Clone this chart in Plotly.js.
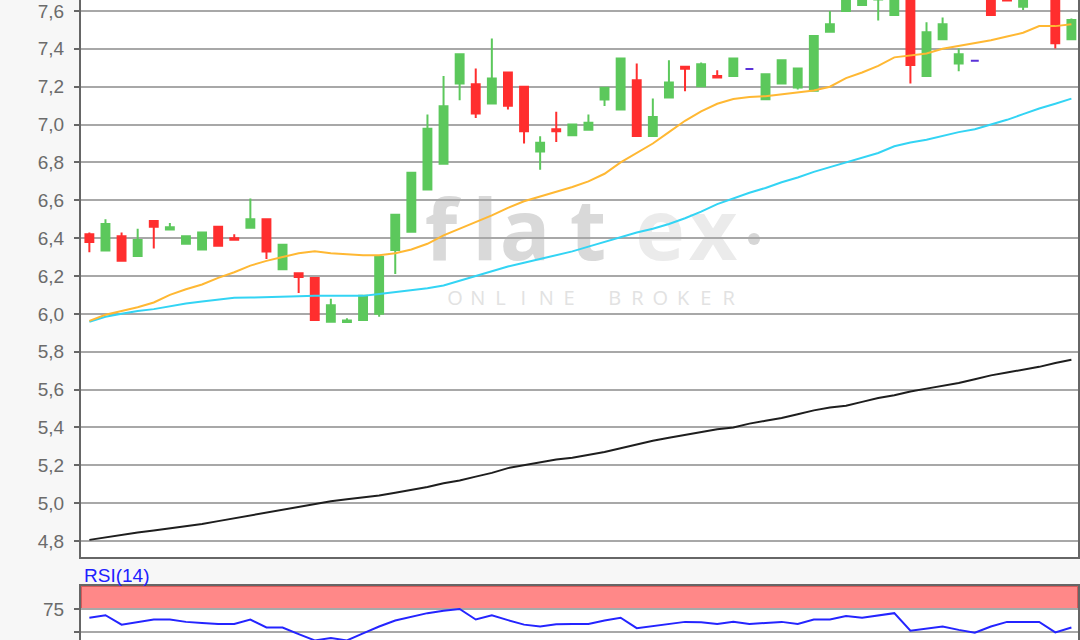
<!DOCTYPE html>
<html><head><meta charset="utf-8">
<script src="https://cdn.plot.ly/plotly-3.0.1.min.js"></script>
<style>html,body{margin:0;padding:0;background:#f7f7f7;}#chart{width:1080px;height:640px;}</style>
</head><body><div id="chart"></div>
<script>
// ---- data ----
const openP  = [6.42,6.335,6.41,6.305,6.49,6.445,6.37,6.34,6.46,6.40, 6.455,6.50,6.235,6.215,6.19,5.958,5.957,5.967,6.0,6.337, 6.434,6.657,6.793,7.217,7.213,7.111,7.275,7.2,6.858,6.975, 6.943,6.973,7.132,7.079,7.234,6.939,7.143,7.305,7.203,7.256, 7.257,7.293,7.134,7.217,7.196,7.178,7.49,7.60,7.632,7.66, 7.579,7.70,7.257,7.45,7.323,7.337,7.70,7.74,7.623,7.70, 7.72,7.45];
const highP  = [6.43,6.50,6.43,6.45,6.495,6.48,6.41,6.43,6.46,6.42, 6.61,6.50,6.365,6.215,6.19,6.08,5.977,6.095,6.30,6.523, 6.745,7.053,7.256,7.372,7.296,7.455,7.275,7.2,6.938,7.067, 7.0,7.053,7.194,7.349,7.323,7.137,7.34,7.305,7.328,7.287, 7.349,7.293,7.266,7.34,7.296,7.468,7.60,7.74,7.75,7.78, 7.80,7.72,7.54,7.565,7.402,7.337,7.72,7.76,7.75,7.80, 7.74,7.56];
const lowP   = [6.325,6.33,6.28,6.30,6.345,6.443,6.37,6.337,6.359,6.39, 6.455,6.29,6.232,6.11,5.967,5.958,5.956,5.967,5.985,6.21, 6.434,6.657,6.793,7.128,7.035,7.111,7.079,6.90,6.761,6.908, 6.943,6.973,7.098,7.079,6.939,6.939,7.143,7.176,7.203,7.247, 7.257,7.293,7.134,7.217,7.185,7.178,7.49,7.60,7.632,7.55, 7.579,7.217,7.257,7.45,7.282,7.337,7.579,7.65,7.605,7.68, 7.402,7.45];
const closeP = [6.38,6.475,6.28,6.39,6.46,6.457,6.41,6.43,6.36,6.392, 6.50,6.33,6.365,6.195,5.967,6.045,5.965,6.095,6.30,6.523, 6.745,6.978,7.097,7.372,7.058,7.243,7.10,6.965,6.904,6.965, 7.0,7.01,7.194,7.349,6.939,7.04,7.222,7.295,7.318,7.248, 7.349,7.293,7.266,7.34,7.296,7.468,7.53,7.72,7.70,7.74, 7.76,7.314,7.487,7.53,7.372,7.337,7.579,7.655,7.72,7.78, 7.43,7.552];
const maOrange = [5.963,5.995,6.015,6.035,6.06,6.10,6.13,6.155,6.19,6.22, 6.255,6.28,6.30,6.32,6.33,6.32,6.315,6.31,6.31,6.32, 6.34,6.37,6.415,6.45,6.485,6.52,6.56,6.595,6.62,6.645, 6.67,6.70,6.74,6.80,6.85,6.90,6.96,7.02,7.07,7.11, 7.135,7.145,7.15,7.16,7.17,7.18,7.20,7.245,7.275,7.31, 7.355,7.365,7.375,7.40,7.415,7.43,7.445,7.465,7.485,7.52, 7.52,7.53];
const maCyan = [5.958,5.985,6.0,6.015,6.025,6.04,6.055,6.065,6.075,6.085, 6.086,6.087,6.09,6.093,6.095,6.095,6.095,6.095,6.105,6.115, 6.125,6.135,6.15,6.175,6.2,6.225,6.25,6.27,6.29,6.31, 6.33,6.355,6.38,6.405,6.43,6.45,6.475,6.505,6.54,6.58, 6.61,6.64,6.665,6.695,6.72,6.75,6.775,6.80,6.825,6.85, 6.885,6.905,6.92,6.94,6.96,6.975,7.0,7.025,7.055,7.085, 7.11,7.137];
const maBlack = [4.806,4.82,4.835,4.845,4.855,4.867,4.877,4.89,4.905,4.92, 4.935,4.95,4.965,4.98,4.998,5.01,5.02,5.03,5.04,5.055, 5.07,5.085,5.105,5.12,5.14,5.16,5.185,5.2,5.215,5.23, 5.24,5.255,5.27,5.29,5.31,5.33,5.345,5.36,5.375,5.39, 5.40,5.42,5.435,5.45,5.47,5.49,5.505,5.515,5.535,5.555, 5.57,5.59,5.605,5.62,5.635,5.655,5.675,5.69,5.705,5.72, 5.74,5.757];
const rsi14 = [65.5,68.2,58,61,63.6,63.6,61,59.8,58.7,58.7, 63.6,54.9,54.9,47.7,40.9,43.5,40.9,48.5,56,62.5, 66.7,70.5,73.1,75,63.6,68.2,62.9,58,56,58.3, 58.7,58.7,62.5,65.5,54.2,56.4,58.7,61,60.6,58.7, 61,58.7,59.8,61,58.7,63.6,63.6,67.4,65.5,68.2, 70.5,51.5,53.8,56,52.3,49.2,56,61,61,61, 49.6,54.9];
const rsiLabel = 'RSI(14)';
const wmWord = 'flatex';
const wmSub = 'ONLINE BROKER';

const idx = openP.map((_, i) => i);
const moving = idx.filter(i => openP[i] !== closeP[i]);
const flat = idx.filter(i => openP[i] === closeP[i]);
const pick = (arr, ids) => ids.map(i => arr[i]);

const GREEN = '#5cc85c', RED = '#ff2e2e', PURPLE = '#5a32d8';
const xr = [-0.52, 61.41];

const traces = [
  {type:'scatter', mode:'lines', x:idx, y:maBlack, line:{color:'#1e1e1e', width:2}, hoverinfo:'skip'},
  {type:'scatter', mode:'lines', x:idx, y:maCyan, line:{color:'#33d4f4', width:2}, hoverinfo:'skip'},
  {type:'scatter', mode:'lines', x:idx, y:maOrange, line:{color:'#ffb833', width:2}, hoverinfo:'skip'},
  {type:'candlestick', x:pick(idx,moving), open:pick(openP,moving), high:pick(highP,moving), low:pick(lowP,moving), close:pick(closeP,moving),
   increasing:{line:{color:GREEN, width:2}, fillcolor:GREEN}, decreasing:{line:{color:RED, width:2}, fillcolor:RED}, whiskerwidth:0},
  {type:'candlestick', x:pick(idx,flat), open:pick(openP,flat), high:pick(highP,flat), low:pick(lowP,flat), close:pick(closeP,flat),
   increasing:{line:{color:PURPLE, width:2}, fillcolor:PURPLE}, decreasing:{line:{color:PURPLE, width:2}, fillcolor:PURPLE}},
  {type:'scatter', mode:'lines', x:idx, y:rsi14, xaxis:'x2', yaxis:'y2', line:{color:'#2424ff', width:2}, hoverinfo:'skip'}
];

const shapes = [
  {type:'rect', xref:'x2 domain', yref:'y2', x0:0, x1:1, y0:75, y1:100, fillcolor:'#ff8888', line:{color:'#d65a5a', width:2}, layer:'below'}
];
// watermark (decoration)
const wmX = [441,485,525,588,660,713];
const wmCol = ['#d9d9d9','#d9d9d9','#d9d9d9','#d9d9d9','#ebebeb','#ebebeb'];
const dx = px => (px - 81) / 997;
const dy = py => (557 - py) / 557;
wmWord.split('').forEach((ch, j) => {
  shapes.push({type:'rect', xref:'x domain', yref:'y domain', x0:dx(wmX[j]-35), x1:dx(wmX[j]+35), y0:dy(268), y1:dy(198),
    line:{width:0}, fillcolor:'rgba(0,0,0,0)', layer:'below',
    label:{text:ch, textposition:'middle center', font:{family:'Open Sans', size:84, color:wmCol[j], weight:700}}});
});
shapes.push({type:'circle', xref:'x domain', yref:'y domain', x0:dx(748), x1:dx(760), y0:dy(245), y1:dy(233), fillcolor:'#d6d6d6', line:{width:0}, layer:'below'});
wmSub.split('').forEach((ch, j) => {
  if (ch === ' ') return;
  const cx = 455 + j * 22.8;
  shapes.push({type:'rect', xref:'x domain', yref:'y domain', x0:dx(cx-12), x1:dx(cx+12), y0:dy(312), y1:dy(284),
    line:{width:0}, fillcolor:'rgba(0,0,0,0)', layer:'below',
    label:{text:ch, textposition:'middle center', font:{family:'Open Sans', size:20, color:'#e2e2e2'}}});
});

const tickFont = {family:'Liberation Sans, Arial, sans-serif', size:19, color:'#6b6b6b'};
const layout = {
  width:1080, height:640,
  margin:{l:81, r:2, t:0, b:0},
  paper_bgcolor:'#f7f7f7', plot_bgcolor:'#ffffff',
  separators:',.',
  showlegend:false,
  boxgap:0.3,
  xaxis:{domain:[0,1], range:xr, anchor:'y', showticklabels:false, showgrid:false, zeroline:false, ticks:'',
         showline:true, linecolor:'#666666', linewidth:2, rangeslider:{visible:false}},
  yaxis:{domain:[(640-557)/640, 1], range:[4.7155, 7.658], tick0:4.8, dtick:0.2, tickformat:'.1f',
         showgrid:true, gridcolor:'#a8a8a8', gridwidth:2, zeroline:false,
         showline:true, mirror:true, linecolor:'#666666', linewidth:2,
         ticks:'outside', ticklen:5, tickwidth:2, tickcolor:'#666666', tickfont:tickFont, ticklabelstandoff:6},
  xaxis2:{domain:[0,1], range:xr, anchor:'y2', side:'top', showticklabels:false, showgrid:false, zeroline:false, ticks:'',
          showline:true, linecolor:'#666666', linewidth:2},
  yaxis2:{domain:[0, (640-586)/640], range:[41.3, 100], tickvals:[75, 50], ticktext:['75', ''],
          showgrid:true, gridcolor:'#a8a8a8', gridwidth:2, zeroline:false,
          showline:true, mirror:true, linecolor:'#666666', linewidth:2,
          ticks:'outside', ticklen:5, tickwidth:2, tickcolor:'#666666', tickfont:tickFont, ticklabelstandoff:6},
  shapes:shapes,
  annotations:[
    {text:rsiLabel, xref:'paper', yref:'paper', x:1/997, y:(640-575)/640, xanchor:'left', yanchor:'middle', showarrow:false,
     font:{family:'Liberation Sans, Arial, sans-serif', size:19, color:'#2020ff'}}
  ]
};
Plotly.newPlot('chart', traces, layout, {displayModeBar:false, staticPlot:true});
</script></body></html>
